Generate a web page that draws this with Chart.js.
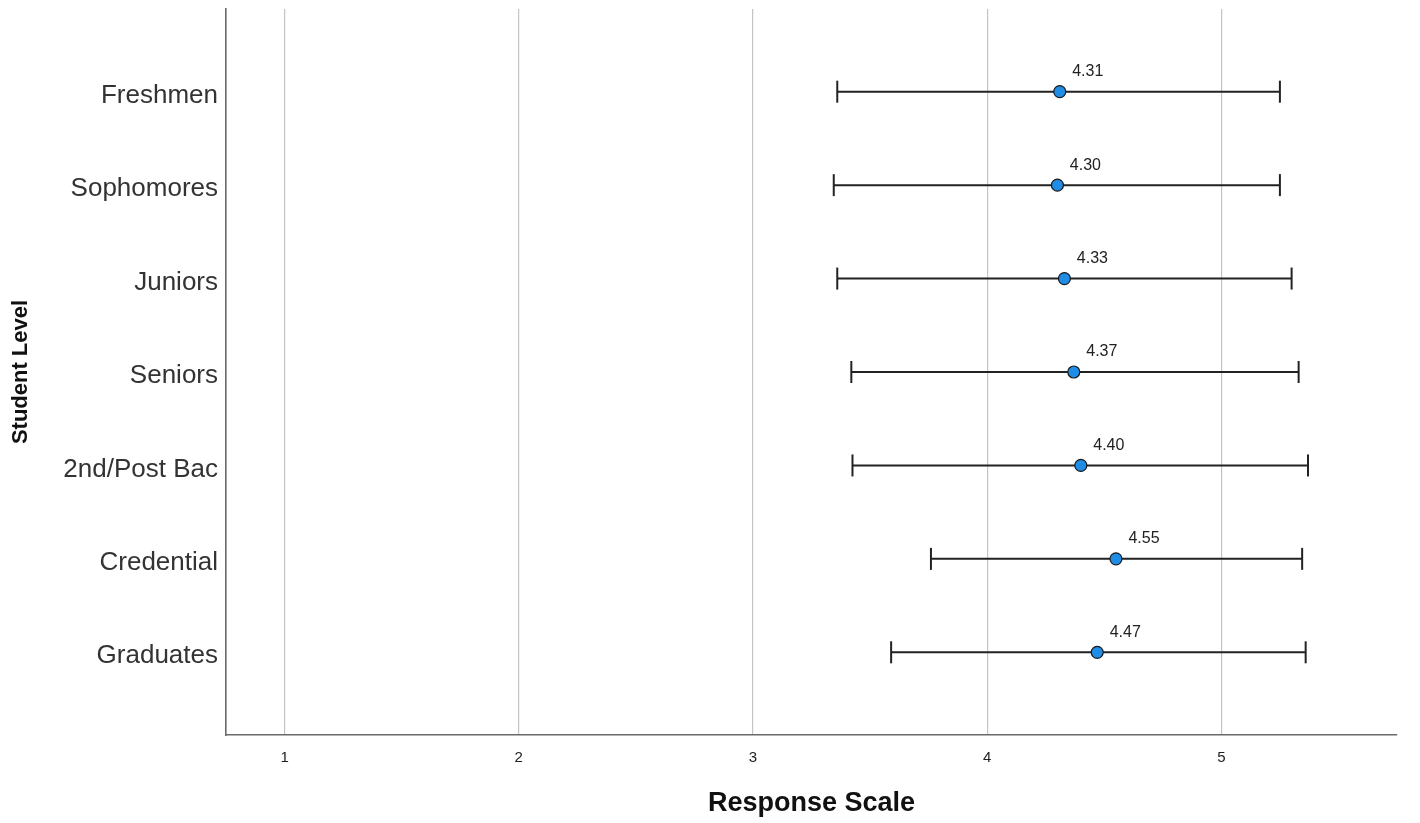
<!DOCTYPE html>
<html>
<head>
<meta charset="utf-8">
<title>Response Scale by Student Level</title>
<script src="https://cdn.jsdelivr.net/npm/chart.js@4.4.1/dist/chart.umd.min.js"></script>
<style>
  html, body { margin: 0; padding: 0; background: #ffffff; }
  #wrap { width: 1420px; height: 823px; }
</style>
</head>
<body>
<div id="wrap"><canvas id="chart" width="1420" height="823"></canvas></div>
<script>
// Student levels, top to bottom
const categories = ['Freshmen', 'Sophomores', 'Juniors', 'Seniors', '2nd/Post Bac', 'Credential', 'Graduates'];
// Mean response per level
const means = [4.31, 4.30, 4.33, 4.37, 4.40, 4.55, 4.47];
// Error bar ends (mean ± 1 SD)
const lows  = [3.36, 3.345, 3.36, 3.42, 3.425, 3.76, 3.59];
const highs = [5.25, 5.25, 5.30, 5.33, 5.37, 5.345, 5.36];
// Response scale ticks
const xTicks = [1, 2, 3, 4, 5];

const FONT = '"Liberation Sans", Arial, Helvetica, sans-serif';
const INK = '#222222';

// One line dataset per level, end points drawn as vertical caps
const errorBarSets = categories.map((c, i) => ({
  type: 'line',
  label: c + ' range',
  data: [{ x: lows[i], y: i }, { x: highs[i], y: i }],
  borderColor: INK,
  borderWidth: 2,
  pointStyle: 'line',
  rotation: 90,
  pointRadius: 11,
  pointHoverRadius: 11,
  pointBorderColor: INK,
  pointBorderWidth: 2,
  fill: false,
  order: 1
}));

const meanSet = {
  type: 'scatter',
  label: 'Mean',
  data: means.map((m, i) => ({ x: m, y: i })),
  pointStyle: 'circle',
  pointRadius: 6,
  pointHoverRadius: 6,
  backgroundColor: '#1f8ce6',
  borderColor: '#1a1a1a',
  borderWidth: 1.2,
  order: 0
};

// Mean values written above-right of each marker
const meanLabels = {
  id: 'meanLabels',
  afterDatasetsDraw(chart) {
    const { ctx, scales: { x, y } } = chart;
    ctx.save();
    ctx.font = '16px ' + FONT;
    ctx.fillStyle = INK;
    ctx.textAlign = 'center';
    ctx.textBaseline = 'middle';
    means.forEach((m, i) => {
      ctx.fillText(m.toFixed(2), x.getPixelForValue(m) + 28, y.getPixelForValue(i) - 20);
    });
    ctx.restore();
  }
};

// Axis boxes are sized explicitly; no extra room for overhanging labels
const noOverhang = s => { s.paddingTop = 0; s.paddingBottom = 0; s.paddingLeft = 0; s.paddingRight = 0; };

new Chart(document.getElementById('chart'), {
  data: { datasets: [meanSet, ...errorBarSets] },
  options: {
    responsive: false,
    animation: false,
    events: [],
    layout: { autoPadding: false, padding: { top: 9, right: 23, bottom: 0, left: 0 } },
    plugins: {
      legend: { display: false },
      tooltip: { enabled: false }
    },
    scales: {
      x: {
        type: 'linear',
        min: 0.75,
        max: 5.75,
        afterBuildTicks: s => { s.ticks = xTicks.map(v => ({ value: v })); },
        afterFit: s => { s.height = 88; noOverhang(s); },
        grid: { display: true, color: '#c4c4c4', lineWidth: 1.2, drawTicks: false },
        border: { display: true, color: '#6a6a6a', width: 1.6 },
        ticks: {
          padding: 14,
          color: INK,
          font: { family: FONT, size: 15 },
          callback: v => String(v)
        },
        title: {
          display: true,
          text: 'Response Scale',
          color: '#111111',
          font: { family: FONT, size: 27, weight: 'bold' },
          padding: { top: 0, bottom: 3 }
        }
      },
      y: {
        type: 'linear',
        reverse: true,
        min: -0.885,
        max: 6.885,
        afterBuildTicks: s => { s.ticks = categories.map((c, i) => ({ value: i })); },
        afterFit: s => { s.width = 226; noOverhang(s); },
        grid: { display: false, drawTicks: false },
        border: { display: true, color: '#6a6a6a', width: 1.6 },
        ticks: {
          padding: 8,
          labelOffset: 4,
          color: '#333333',
          font: { family: FONT, size: 26 },
          callback: v => categories[v]
        },
        title: {
          display: true,
          text: 'Student Level',
          color: '#111111',
          font: { family: FONT, size: 22, weight: 'bold' },
          padding: { top: 8, bottom: 0 }
        }
      }
    }
  },
  plugins: [meanLabels]
});
</script>
</body>
</html>
